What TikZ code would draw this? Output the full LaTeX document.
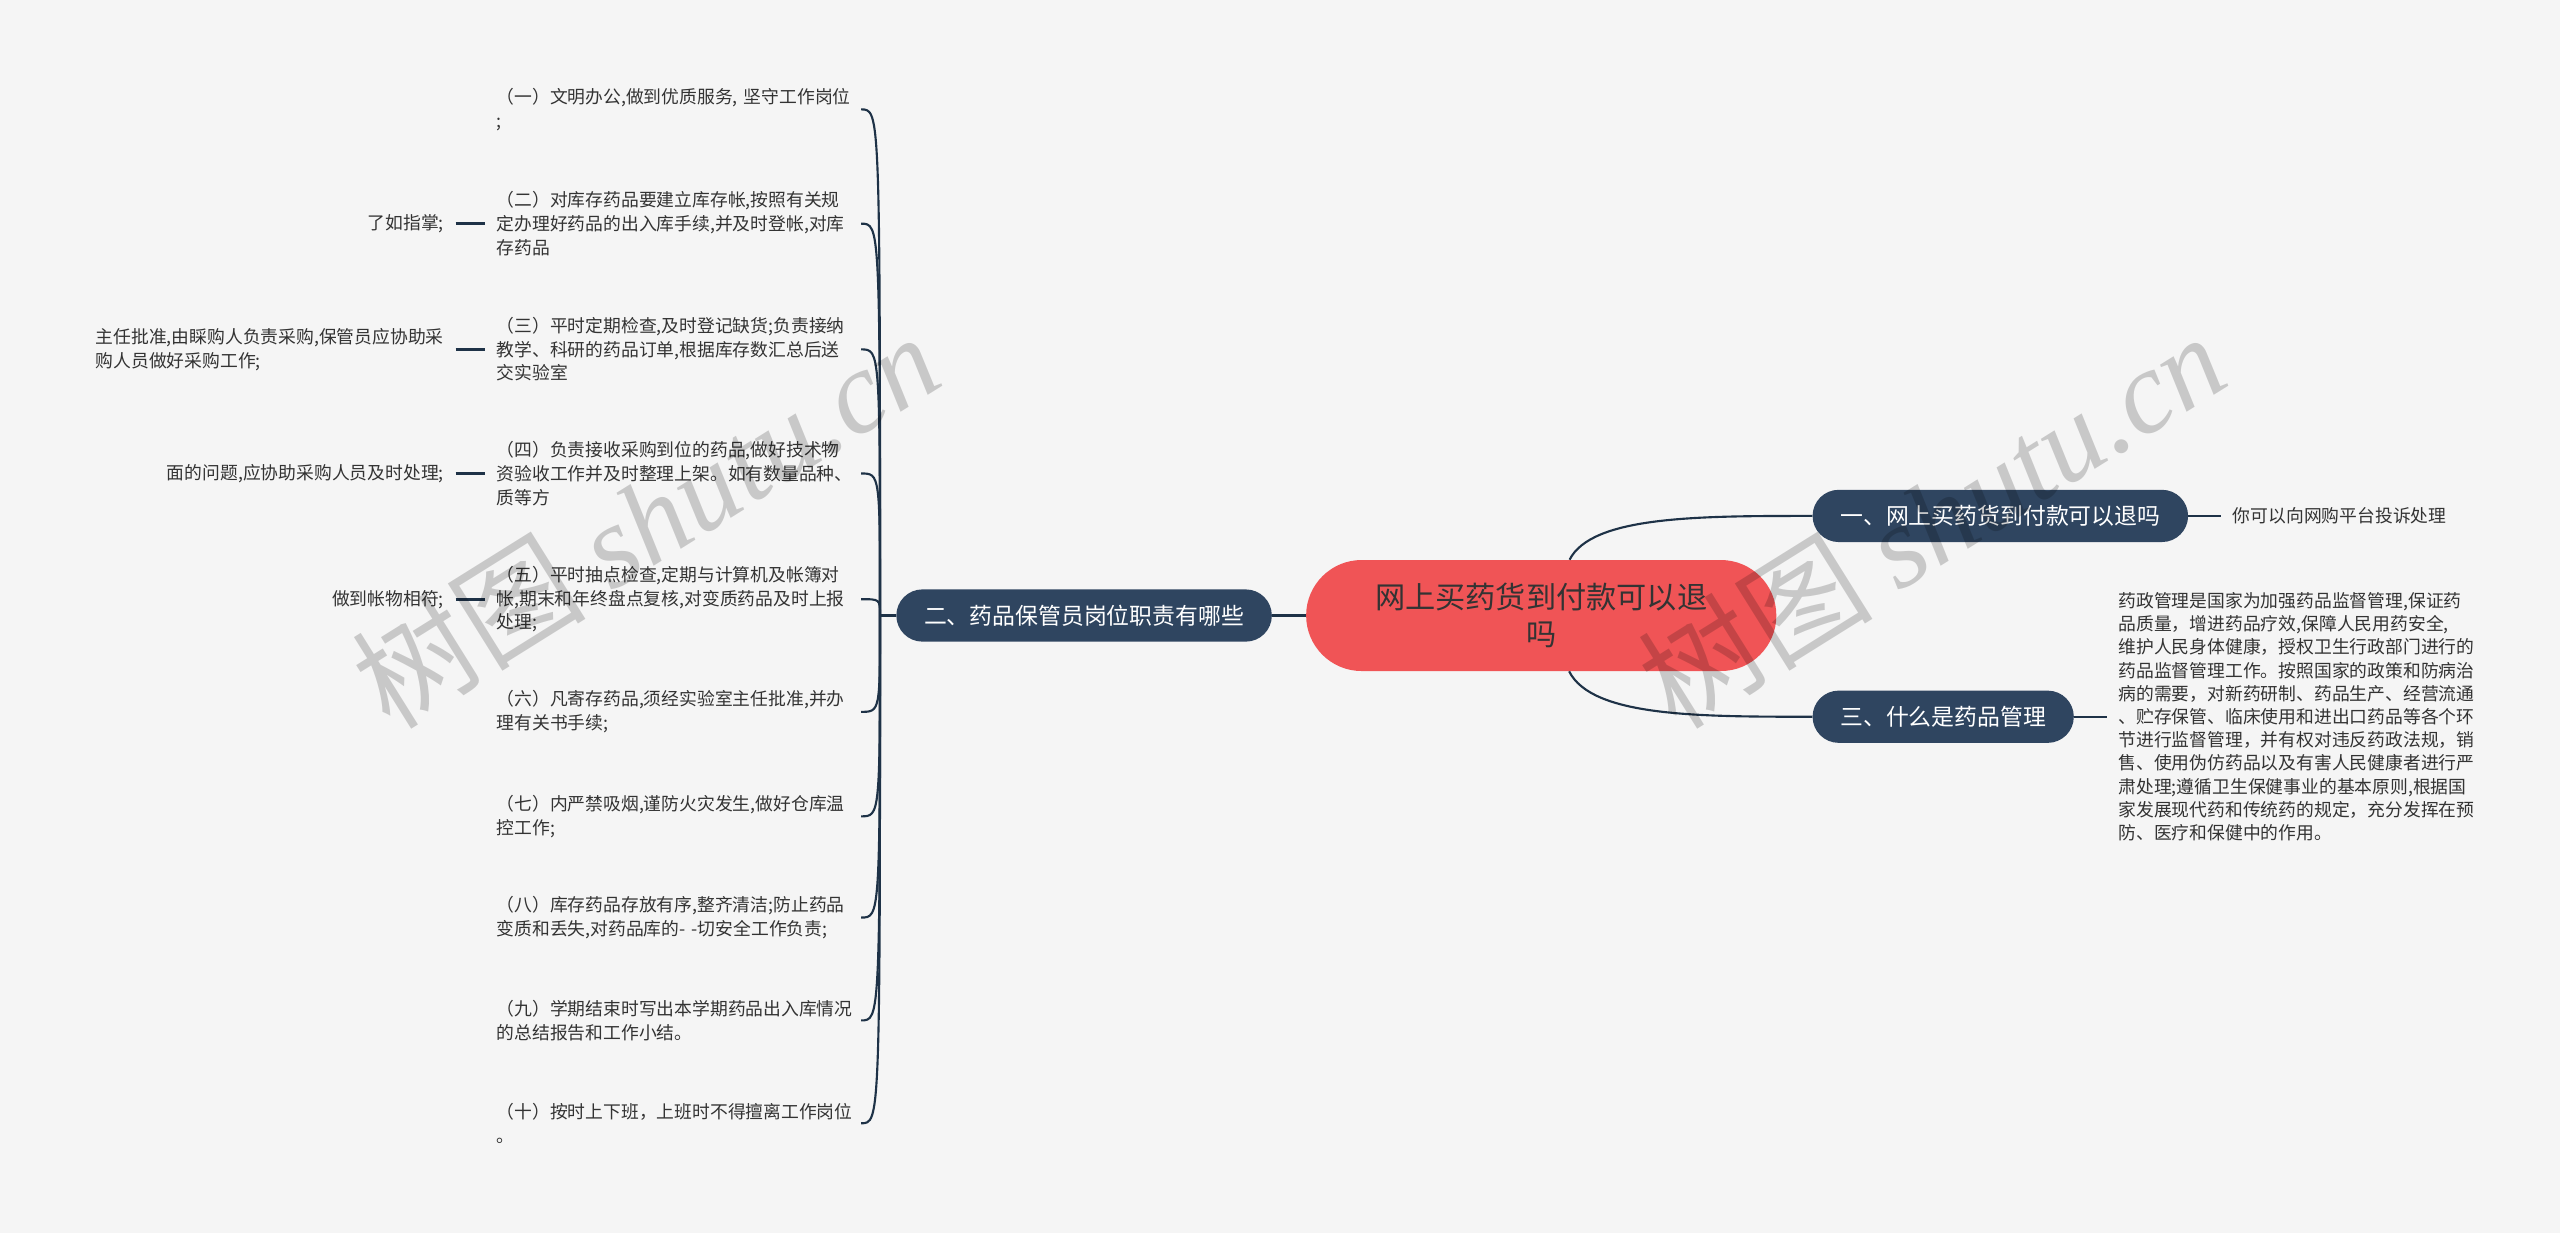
\documentclass[tikz,border=0pt]{standalone}
\usepackage{fontspec}
\setmainfont{Noto Sans CJK SC}
\newfontfamily\wmfont{Liberation Serif}
\usetikzlibrary{positioning}

\definecolor{bgcol}{HTML}{F5F5F5}
\definecolor{topicblue}{HTML}{2F4560}
\definecolor{linecol}{HTML}{1E3247}
\definecolor{rootred}{HTML}{F05456}
\definecolor{txtgray}{HTML}{333333}

\begin{document}
\begin{tikzpicture}[x=1pt, y=-1pt,
  root/.style={rectangle, rounded corners=34pt, fill=rootred, text=txtgray, minimum width=288pt, minimum height=68pt, align=center, font=\fontsize{18.5}{23}\selectfont},
  topic/.style={rectangle, rounded corners=16pt, fill=topicblue, text=white, minimum height=32pt, inner xsep=17pt, font=\fontsize{14}{16}\selectfont},
  item/.style={text=txtgray, align=left, inner xsep=7pt, inner ysep=2pt, anchor=west, text width=216pt, font=\fontsize{10.9}{14.5}\selectfont},
  leaf/.style={text=txtgray, align=left, inner xsep=7pt, inner ysep=2pt, font=\fontsize{10.9}{14.5}\selectfont},
  conn/.style={draw=linecol, line width=1.3pt},
  stub/.style={draw=linecol, line width=1.8pt},
  wmark/.style={text=black, text opacity=0.18, rotate=32, font=\fontsize{72}{72}\selectfont},
]
\fill[bgcol] (0,0) rectangle (1568,755);
\useasboundingbox (0,0) rectangle (1568,755);

% root and main topics
\node[root] (c) at (944,377) {网上买药货到付款可以退\\吗};
\node[topic] (b2) at (664,377) {二、药品保管员岗位职责有哪些};
\node[topic, anchor=west] (b1) at (1110,316) {一、网上买药货到付款可以退吗};
\node[topic, anchor=west] (b3) at (1110,439) {三、什么是药品管理};

% duties
\node[item] (i1)  at (297,67)  {（一）文明办公,做到优质服务,~坚守工作岗位\\;};
\node[item] (i2)  at (297,137) {（二）对库存药品要建立库存帐,按照有关规\\定办理好药品的出入库手续,并及时登帐,对库\\存药品};
\node[item] (i3)  at (297,214) {（三）平时定期检查,及时登记缺货;负责接纳\\教学、科研的药品订单,根据库存数汇总后送\\交实验室};
\node[item] (i4)  at (297,290) {（四）负责接收采购到位的药品,做好技术物\\资验收工作并及时整理上架。如有数量品种、\\质等方};
\node[item] (i5)  at (297,367) {（五）平时抽点检查,定期与计算机及帐簿对\\帐,期末和年终盘点复核,对变质药品及时上报\\处理;};
\node[item] (i6)  at (297,436) {（六）凡寄存药品,须经实验室主任批准,并办\\理有关书手续;};
\node[item] (i7)  at (297,500) {（七）内严禁吸烟,谨防火灾发生,做好仓库温\\控工作;};
\node[item] (i8)  at (297,562) {（八）库存药品存放有序,整齐清洁;防止药品\\变质和丢失,对药品库的-~-切安全工作负责;};
\node[item] (i9)  at (297,625) {（九）学期结束时写出本学期药品出入库情况\\的总结报告和工作小结。};
\node[item] (i10) at (297,688) {（十）按时上下班，上班时不得擅离工作岗位\\。};

% overflow parts
\node[leaf, left=18pt of i2] (s2) {了如指掌;};
\node[leaf, left=18pt of i3] (s3) {主任批准,由睬购人负责采购,保管员应协助采\\购人员做好采购工作;};
\node[leaf, left=18pt of i4] (s4) {面的问题,应协助采购人员及时处理;};
\node[leaf, left=18pt of i5] (s5) {做到帐物相符;};

% right leaves
\node[leaf, right=20pt of b1] (l1) {你可以向网购平台投诉处理};
\node[leaf, right=20pt of b3, font=\fontsize{10.9}{14.2}\selectfont] (l3) {药政管理是国家为加强药品监督管理,保证药\\品质量，增进药品疗效,保障人民用药安全,\\维护人民身体健康，授权卫生行政部门进行的\\药品监督管理工作。按照国家的政策和防病治\\病的需要，对新药研制、药品生产、经营流通\\、贮存保管、临床使用和进出口药品等各个环\\节进行监督管理，并有权对违反药政法规，销\\售、使用伪仿药品以及有害人民健康者进行严\\肃处理;遵循卫生保健事业的基本原则,根据国\\家发展现代药和传统药的规定，充分发挥在预\\防、医疗和保健中的作用。};

% connectors
\coordinate (sp) at (539,377);
\draw[conn] (c) -- (b2);
\draw[conn] (b2) -- (sp);
\foreach \k in {1,...,10}
  \draw[conn] (sp) .. controls (sp |- i\k.east) .. (i\k.east);
\foreach \k in {2,...,5}
  \draw[stub] (s\k) -- (i\k);
\draw[conn] (c) .. controls (975,316) and (1040,316) .. (b1);
\draw[conn] (c) .. controls (975,439) and (1040,439) .. (b3);
\draw[conn, line width=1.5pt] (b1) -- (l1);
\draw[conn, line width=1.5pt] (b3) -- (l3);

% watermarks
\node[wmark] (wm1) at (395,318) {树图 {\wmfont\itshape shutu.cn}};
\node[wmark] (wm2) at (1183,318) {树图 {\wmfont\itshape shutu.cn}};
\end{tikzpicture}
\end{document}
